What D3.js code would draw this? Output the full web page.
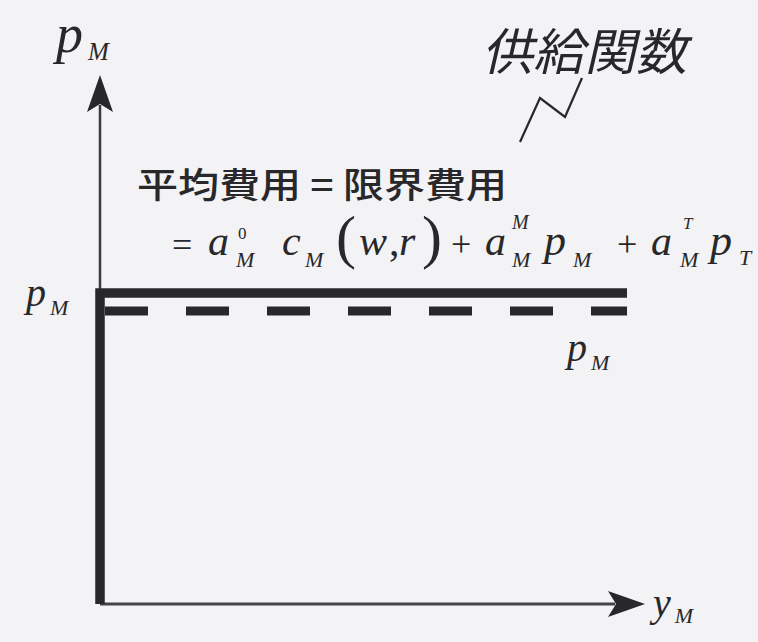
<!DOCTYPE html>
<html>
<head>
<meta charset="utf-8">
<script src="https://cdn.jsdelivr.net/npm/d3@7"></script>
<style>
  html, body { margin: 0; padding: 0; background: #f3f2f4; }
  svg { display: block; }
  .math { font-family: "Liberation Serif", "Times New Roman", "DejaVu Serif", serif; fill: #28282a; }
  .cjk { font-family: "Noto Sans CJK JP", sans-serif; fill: #28282a; }
</style>
</head>
<body>
<svg id="chart" width="758" height="642"></svg>
<script>
// Price levels on the vertical axis (0 = origin, 1 = top of axis)
const supplyPrice = [0.588];   // supply function: flat at average = marginal cost
const marketPrice = [0.554];   // market price p_M (dashed)
// Horizontal extent of the price lines (share of the output axis)
const lineExtent = [0, 0.967];
// Axis labels
const yAxisLabel = ["p", "M"];
const xAxisLabel = ["y", "M"];
const curveName = "供給関数";
const costLabel = "平均費用 = 限界費用";

const W = 758, H = 642;
const svg = d3.select("#chart");
svg.append("rect").attr("width", W).attr("height", H).attr("fill", "#f3f2f4");

const x = d3.scaleLinear().domain([0, 1]).range([100, 645]);
const y = d3.scaleLinear().domain([0, 1]).range([604, 75]);

const ink = "#28282a";

// Axes (drawn from the scales' extents)
svg.append("line")
  .attr("x1", x(0)).attr("x2", x(1) - 30)
  .attr("y1", y(0)).attr("y2", y(0))
  .attr("stroke", "#444446").attr("stroke-width", 3);
svg.append("line")
  .attr("x1", x(0)).attr("x2", x(0))
  .attr("y1", y(0)).attr("y2", y(1) + 30)
  .attr("stroke", "#3a3a3c").attr("stroke-width", 2.5);

// Arrow heads
const tipY = [x(0), y(1)];
svg.append("path")
  .attr("d", `M${tipY[0]},${tipY[1]} L${tipY[0] + 13},${tipY[1] + 37} L${tipY[0]},${tipY[1] + 29} L${tipY[0] - 13},${tipY[1] + 37} Z`)
  .attr("fill", ink);
const tipX = [x(1), y(0)];
svg.append("path")
  .attr("d", `M${tipX[0]},${tipX[1]} L${tipX[0] - 37},${tipX[1] - 13} L${tipX[0] - 29},${tipX[1]} L${tipX[0] - 37},${tipX[1] + 13} Z`)
  .attr("fill", ink);

// Market price p_M, dashed
svg.append("line")
  .attr("x1", x(lineExtent[0]) + 5).attr("x2", x(lineExtent[1]))
  .attr("y1", y(marketPrice[0])).attr("y2", y(marketPrice[0]))
  .attr("stroke", ink).attr("stroke-width", 9)
  .attr("stroke-dasharray", "43 38");

// Supply function: vertical at zero output up to the price, then flat
const supplyLine = d3.line().x(d => x(d[0])).y(d => y(d[1]));
svg.append("path")
  .attr("d", supplyLine([[0, 0], [0, supplyPrice[0]], [lineExtent[1], supplyPrice[0]]]))
  .attr("fill", "none").attr("stroke", ink).attr("stroke-width", 9.5)
  .attr("stroke-linejoin", "miter");

// Italic math label with a subscript
function mathLabel(px, py, base, sub, size, subSize, subDx, subDy) {
  const t = svg.append("text").attr("class", "math").attr("x", px).attr("y", py)
    .attr("font-style", "italic").attr("font-size", size);
  t.append("tspan").text(base);
  t.append("tspan").attr("dx", subDx).attr("dy", subDy).attr("font-size", subSize).text(sub);
}

mathLabel(56, 52, yAxisLabel[0], yAxisLabel[1], 54, 25, 5, 8);
mathLabel(26, 306, "p", "M", 40, 22, 4, 9);
mathLabel(567, 361, "p", "M", 40, 22, 4, 9);
mathLabel(653, 616, xAxisLabel[0], xAxisLabel[1], 40, 22, 4, 7);

// Curve name with pointer
svg.append("text").attr("class", "cjk")
  .attr("x", 0).attr("y", 0)
  .attr("font-size", 50)
  .attr("transform", "translate(482,70) skewX(-13)")
  .attr("textLength", 205).attr("lengthAdjust", "spacingAndGlyphs")
  .text(curveName);
svg.append("path")
  .attr("d", "M520,142 L540,98 L565,117 L582,78")
  .attr("fill", "none").attr("stroke", ink).attr("stroke-width", 2.2);

// Cost label
svg.append("text").attr("class", "cjk")
  .attr("x", 137).attr("y", 198)
  .attr("font-size", 35).attr("font-weight", 500)
  .attr("textLength", 370).attr("lengthAdjust", "spacingAndGlyphs")
  .text(costLabel);

// Formula tokens: [text, x, baseline, size, italic]
const formula = [
  ["=", 172, 257, 36, false],
  ["a", 208, 255, 42, true],
  ["0", 238, 239, 17, false],
  ["M", 236, 267, 22, true],
  ["c", 282, 255, 42, true],
  ["M", 305, 267, 22, true],
  ["(", 336, 257, 60, false],
  ["w", 359, 255, 42, true],
  [",", 389, 255, 42, false],
  ["r", 399, 255, 42, true],
  [")", 422, 257, 60, false],
  ["+", 451, 256, 36, false],
  ["a", 485, 255, 42, true],
  ["M", 512, 229, 20, true],
  ["M", 512, 267, 22, true],
  ["p", 544, 255, 44, true],
  ["M", 573, 267, 22, true],
  ["+", 617, 256, 36, false],
  ["a", 651, 255, 42, true],
  ["T", 683, 229, 17, true],
  ["M", 680, 267, 22, true],
  ["p", 710, 255, 44, true],
  ["T", 739, 265, 22, true]
];
svg.append("g").selectAll("text").data(formula).join("text")
  .attr("class", "math")
  .attr("x", d => d[1]).attr("y", d => d[2])
  .attr("font-size", d => d[3])
  .attr("font-style", d => d[4] ? "italic" : "normal")
  .text(d => d[0]);
</script>
</body>
</html>
